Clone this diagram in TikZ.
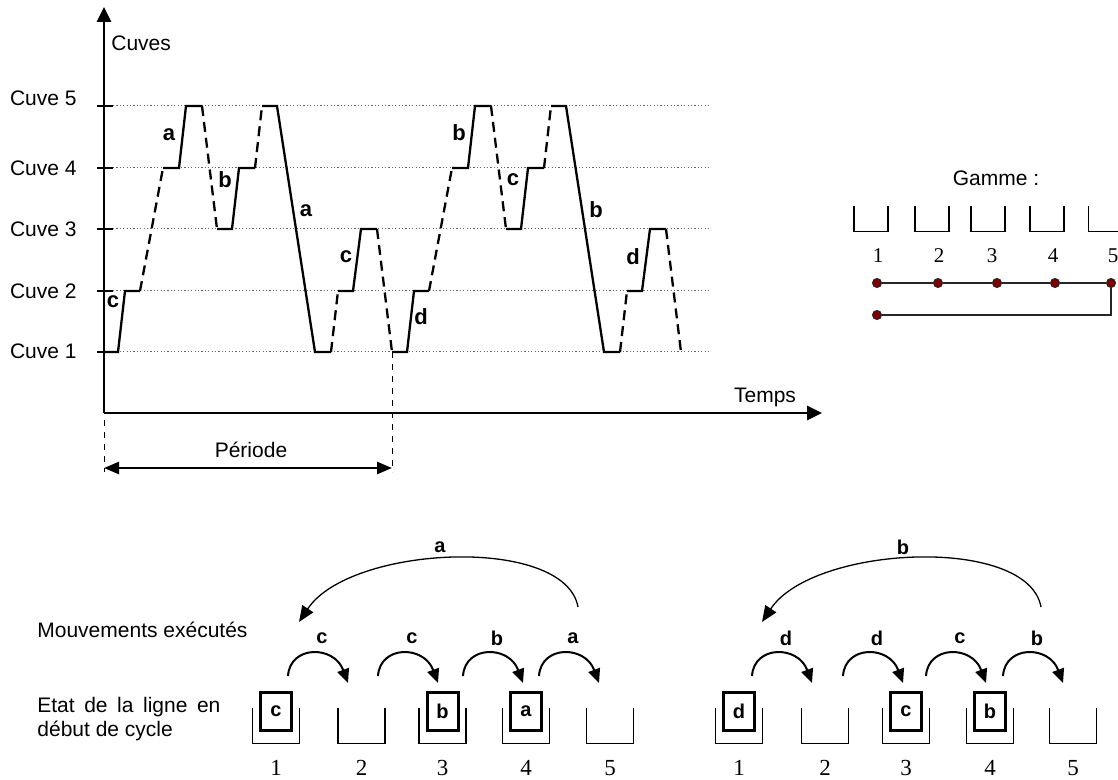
\documentclass[tikz,border=0pt]{standalone}
\usepackage{fontspec}
\setmainfont{Liberation Sans}
\newfontfamily\numfont{Liberation Serif}
\usetikzlibrary{arrows.meta,positioning}

\tikzset{
  curveline/.style={line width=1.15pt},
  movedash/.style={line width=1.15pt, dash pattern=on 5pt off 3pt},
  levelline/.style={black!60, line width=0.5pt, dash pattern=on 0.6pt off 1.1pt},
  tickline/.style={line width=0.65pt},
  axisline/.style={line width=1.4pt},
  periodarrow/.style={line width=1.25pt, {Triangle[length=7.5pt,width=6pt]}-{Triangle[length=7.5pt,width=6pt]}},
  perioddash/.style={line width=0.5pt, dashed},
  curvelabel/.style={font=\bfseries\fontsize{11}{13}\selectfont},
  movelabel/.style={font=\bfseries\fontsize{10}{12}\selectfont},
  tankspace/.style={minimum width=23pt, minimum height=17.5pt},
  gammetank/.style={minimum width=16.5pt, minimum height=12.5pt},
  tankwall/.style={line width=0.7pt},
  itembox/.style={draw, line width=1.5pt, minimum width=15.5pt, minimum height=19pt, font=\bfseries\fontsize{10}{12}\selectfont},
  movearrow/.style={line width=1pt, -{Triangle[length=7pt,width=6pt]}},
  bigarrow/.style={line width=0.65pt, -{Triangle[length=8pt,width=6.5pt]}},
  numlabel/.style={font=\numfont\fontsize{11.5}{13}\selectfont},
  gammenum/.style={font=\numfont\fontsize{10.5}{12}\selectfont},
  gammedot/.style={circle, draw=black!85, fill=red!50!black, line width=0.5pt, minimum size=4.5pt},
  gammeline/.style={black!85, line width=0.6pt},
}

% an open tank: #2 name, (#3,#4) centre
\newcommand{\cuve}[4][]{%
  \node[tankspace,#1] (#2) at (#3,#4) {};
  \draw[tankwall] (#2.north west) -- (#2.south west) -- (#2.south east) -- (#2.north east);}

% a move between neighbouring tanks: #1 letter, #2 name, #3 x of the letter
\newcommand{\mvarrow}[3]{%
  \node[movelabel] (#2) at (#3,-638) {#1};
  \draw[movearrow] ([shift={(-34,-38)}]#2.center) .. controls +(2,31) and +(-14,38) .. ([shift={(26,-45)}]#2.center);}

\begin{document}
\begin{tikzpicture}[x=0.5pt, y=0.5pt, inner sep=0pt, font=\fontsize{10.5}{12}\selectfont]
    \useasboundingbox (0,0) rectangle (1118,-780);
    \clip (0,0) rectangle (1118,-780);

    % levels
    \draw[levelline] (113,-106) -- (710,-106);
    \draw[levelline] (113,-168) -- (710,-168);
    \draw[levelline] (113,-229) -- (710,-229);
    \draw[levelline] (113,-291) -- (710,-291);
    \draw[levelline] (113,-352) -- (710,-352);
    \draw[tickline] (97,-106) -- (113,-106);
    \draw[tickline] (97,-168) -- (113,-168);
    \draw[tickline] (97,-229) -- (113,-229);
    \draw[tickline] (97,-291) -- (113,-291);
    \draw[tickline] (97,-352) -- (113,-352);

    \node[anchor=east] (cv5) at (77,-98) {Cuve 5};
    \node[anchor=east] (cv4) at (77,-168) {Cuve 4};
    \node[anchor=east] (cv3) at (77,-229) {Cuve 3};
    \node[anchor=east] (cv2) at (77,-291) {Cuve 2};
    \node[anchor=east] (cv1) at (77,-351) {Cuve 1};

    % axes
    \coordinate (orig) at (104,-413);
    \coordinate (ytop) at (104,-7);
    \coordinate (xend) at (822,-413);
    \draw[axisline, -{Triangle[length=7.5pt,width=7pt]}] (orig) -- (ytop);
    \draw[axisline, -{Triangle[length=7.5pt,width=7pt]}] (orig) -- (xend);
    \node[anchor=west] (cuves) at (111,-43) {Cuves};
    \node (temps) at (765,-397) {Temps};

    % first period
    \draw[curveline] (104,-352) -- (118,-352) -- (125,-291) -- (140,-291);
    \draw[movedash] (140,-291) -- (163,-168);
    \draw[curveline] (163,-168) -- (179,-168) -- (186,-106) -- (202,-106);
    \draw[movedash] (202,-106) -- (217,-229);
    \draw[curveline] (217,-229) -- (232,-229) -- (239,-168) -- (255,-168);
    \draw[movedash] (255,-168) -- (262,-106);
    \draw[curveline] (262,-106) -- (277,-106) -- (315,-352) -- (331,-352);
    \draw[movedash] (331,-352) -- (338,-291);
    \draw[curveline] (338,-291) -- (353,-291) -- (361,-229) -- (377,-229);
    \draw[movedash] (377,-229) -- (392,-352);

    % second period
    \draw[curveline] (392,-352) -- (407,-352) -- (414,-291) -- (429,-291);
    \draw[movedash] (429,-291) -- (452,-168);
    \draw[curveline] (452,-168) -- (468,-168) -- (475,-106) -- (491,-106);
    \draw[movedash] (491,-106) -- (506,-229);
    \draw[curveline] (506,-229) -- (521,-229) -- (528,-168) -- (544,-168);
    \draw[movedash] (544,-168) -- (551,-106);
    \draw[curveline] (551,-106) -- (566,-106) -- (604,-352) -- (620,-352);
    \draw[movedash] (620,-352) -- (627,-291);
    \draw[curveline] (627,-291) -- (642,-291) -- (650,-229) -- (666,-229);
    \draw[movedash] (666,-229) -- (681,-352);

    \node[curvelabel] (k1) at (113,-302) {c};
    \node[curvelabel] (k2) at (169,-135) {a};
    \node[curvelabel] (k3) at (225,-180) {b};
    \node[curvelabel] (k4) at (306,-211) {a};
    \node[curvelabel] (k5) at (346,-257) {c};
    \node[curvelabel] (k6) at (421,-317) {d};
    \node[curvelabel] (k7) at (459,-133) {b};
    \node[curvelabel] (k8) at (513,-180) {c};
    \node[curvelabel] (k9) at (596,-210) {b};
    \node[curvelabel] (k10) at (633,-257) {d};

    % period
    \coordinate (p0) at (104,-468);
    \coordinate (p1) at (392,-468);
    \draw[perioddash] (104,-420) -- (104,-472);
    \draw[perioddash] (392,-352) -- (392,-472);
    \draw[periodarrow] (p0) -- (p1);
    \node (periode) at (251,-450) {Période};

    % gamme
    \node (gamme) at (996,-178) {Gamme :};
    \cuve[gammetank]{g1}{871}{-218.5}
    \cuve[gammetank]{g2}{932}{-218.5}
    \cuve[gammetank]{g3}{988}{-218.5}
    \cuve[gammetank]{g4}{1047}{-218.5}
    \cuve[gammetank]{g5}{1105.5}{-218.5}
    \node[gammenum] (gn1) at (878,-256) {1};
    \node[gammenum] (gn2) at (939,-256) {2};
    \node[gammenum] (gn3) at (992,-256) {3};
    \node[gammenum] (gn4) at (1053,-256) {4};
    \node[gammenum] (gn5) at (1113,-256) {5};
    \node[gammedot] (d1) at (877,-283) {};
    \node[gammedot] (d2) at (938,-283) {};
    \node[gammedot] (d3) at (997,-283) {};
    \node[gammedot] (d4) at (1055,-283) {};
    \node[gammedot] (d5) at (1111,-283) {};
    \node[gammedot] (d6) at (877,-315) {};
    \draw[gammeline] (d1) -- (d2) -- (d3) -- (d4) -- (d5);
    \draw[gammeline] (d5) |- (d6);

    % line states
    \node[anchor=west] (mvt) at (37,-630) {Mouvements exécutés};
    \node[anchor=west, align=left] (etat) at (37,-719) {\makebox[91.5pt][s]{Etat de la ligne en}\\début de cycle};

    \cuve{la1}{276}{-725.5}
    \cuve{la2}{361.5}{-725.5}
    \cuve{la3}{442.5}{-725.5}
    \cuve{la4}{526}{-725.5}
    \cuve{la5}{610}{-725.5}
    \node[itembox] (ia1) at (276,-711.5) {c};
    \node[itembox] (ia3) at (442.5,-711.5) {b};
    \node[itembox] (ia4) at (526,-711.5) {a};
    \node[numlabel] (na1) at (276,-768) {1};
    \node[numlabel] (na2) at (361.5,-768) {2};
    \node[numlabel] (na3) at (442.5,-768) {3};
    \node[numlabel] (na4) at (526,-768) {4};
    \node[numlabel] (na5) at (610,-768) {5};
    \mvarrow{c}{ma1}{322}
    \mvarrow{c}{ma2}{412}
    \mvarrow{b}{ma3}{497}
    \mvarrow{a}{ma4}{573}
    \node[movelabel] (ga) at (440,-547) {a};
    \draw[bigarrow] ([shift={(138,-60)}]ga.center) .. controls +(-13,72) and +(51,77) .. ([shift={(-141,-75)}]ga.center);

    \cuve{ra1}{739}{-725.5}
    \cuve{ra2}{825}{-725.5}
    \cuve{ra3}{906}{-725.5}
    \cuve{ra4}{990}{-725.5}
    \cuve{ra5}{1073}{-725.5}
    \node[itembox] (ir1) at (739,-711.5) {d};
    \node[itembox] (ir3) at (906,-711.5) {c};
    \node[itembox] (ir4) at (990,-711.5) {b};
    \node[numlabel] (nr1) at (739,-768) {1};
    \node[numlabel] (nr2) at (825,-768) {2};
    \node[numlabel] (nr3) at (906,-768) {3};
    \node[numlabel] (nr4) at (990,-768) {4};
    \node[numlabel] (nr5) at (1073,-768) {5};
    \mvarrow{d}{mr1}{786}
    \mvarrow{d}{mr2}{877}
    \mvarrow{c}{mr3}{960}
    \mvarrow{b}{mr4}{1037}
    \node[movelabel] (gb) at (903,-547) {b};
    \draw[bigarrow] ([shift={(138,-60)}]gb.center) .. controls +(-13,72) and +(51,77) .. ([shift={(-141,-75)}]gb.center);

\end{tikzpicture}
\end{document}
